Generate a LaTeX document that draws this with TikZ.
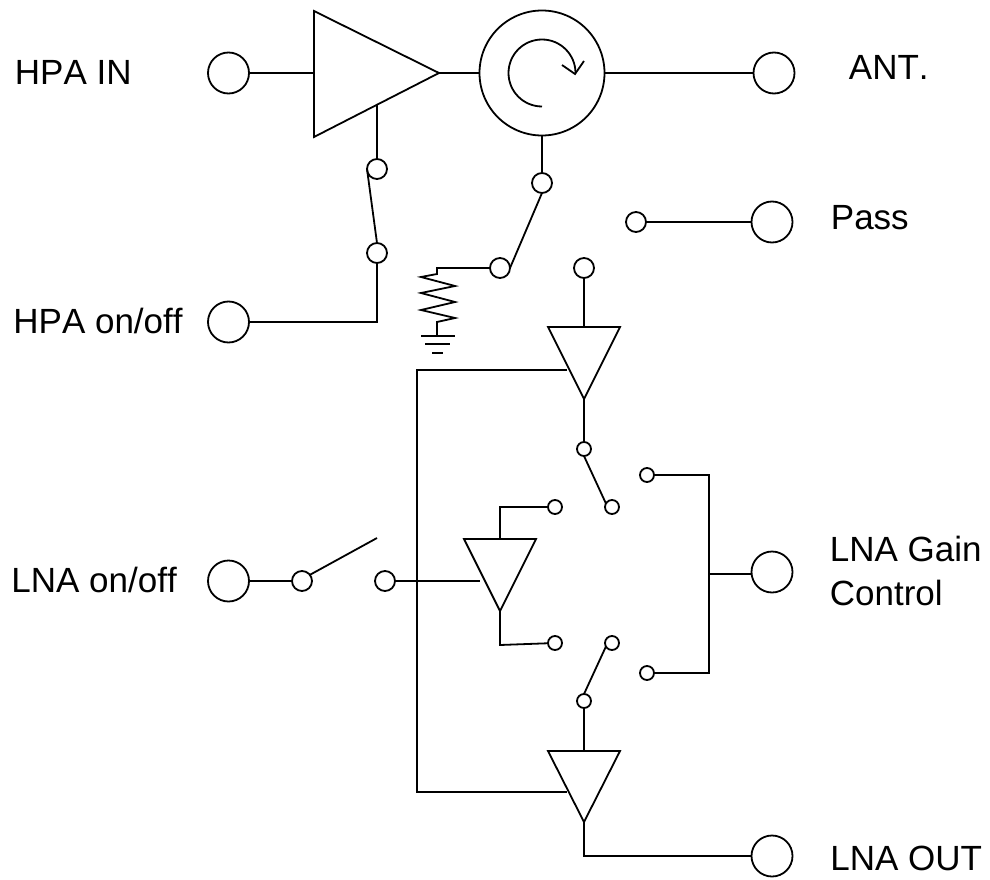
\documentclass[tikz,border=0pt]{standalone}
\usepackage{fontspec}
\setmainfont[Kerning=Off]{Liberation Sans}
\tikzset{>=stealth}
\tikzset{
  port/.style={draw,circle,inner sep=0pt,outer sep=0pt,minimum size=41pt},
  contact/.style={draw,circle,inner sep=0pt,outer sep=0pt,minimum size=20pt},
  tap/.style={draw,circle,inner sep=0pt,outer sep=0pt,minimum size=14pt},
  lbl/.style={anchor=base west,inner sep=0pt,font=\fontsize{35}{41}\selectfont}
}

\begin{document}
\begin{tikzpicture}[x=1pt,y=-1pt,line width=1.8pt,line join=miter]
      \useasboundingbox (0,0) rectangle (990,880);
      % ports and contacts
      \foreach \n/\x/\y in {hpain/228.5/73,ant/774/73,pass/772/222,hpaonoff/228.5/322,lnaonoff/228.5/581,gain/772/572,lnaout/772/856}
        \node[port] (\n) at (\x,\y) {};
      \foreach \n/\x/\y in {hpasa/377/169,hpasb/377/253,circsa/542/183,circsb/500/268,rxs/584/268,passs/636/222,lnasa/302/581,lnasb/385/581}
        \node[contact] (\n) at (\x,\y) {};
      \foreach \n/\x/\y in {upc/584/449,gainu/647/475,midu/555/507,upo/612/507,midd/555/643,downo/612/643,gaind/647/673,downc/584/701}
        \node[tap] (\n) at (\x,\y) {};
      \node[draw,circle,inner sep=0pt,outer sep=0pt,minimum size=125pt] (circ) at (542,73) {};
      % amplifiers
      \coordinate (hpaa) at (314,11);
      \coordinate (hpab) at (314,137);
      \coordinate (hpatip) at (439,73);
      \draw (hpaa)--(hpatip)--(hpab)--cycle;
      \coordinate (rxa) at (548,327);
      \coordinate (rxb) at (620,327);
      \coordinate (rxtip) at (584,399);
      \draw (rxa)--(rxb)--(rxtip)--cycle;
      \coordinate (mida) at (464,539);
      \coordinate (midb) at (536,539);
      \coordinate (midtip) at (500,611);
      \draw (mida)--(midb)--(midtip)--cycle;
      \coordinate (lowa) at (548,751);
      \coordinate (lowb) at (620,751);
      \coordinate (lowtip) at (584,822);
      \draw (lowa)--(lowb)--(lowtip)--cycle;
      % circulator arrow
      \draw ([yshift=-33.5pt]circ.center) arc[start angle=90,end angle=360,radius=33.5];
      \draw (562,65)--(575,74)--(584,61);
      % top row
      \draw (hpain)--(314,73);
      \draw (hpatip)--(circ);
      \draw (circ)--(ant);
      % hpa switch
      \draw (377,105)--(hpasa);
      \draw (hpasa.west)--(hpasb.north);
      \draw (hpasb) |- (hpaonoff);
      % load switch
      \draw (circ)--(circsa);
      \draw (circsa.south)--(circsb.east);
      \draw (circsb)--(437,268)--(437,274)--(421,277)--(455,286)--(421,293)--(455,302)--(421,310)--(455,318)--(437,322)--(437,336);
      \draw (421,336)--(455,336);
      \draw (425,344)--(450,344);
      \draw (432,353)--(443,353);
      % receive chain
      \draw (passs)--(pass);
      \draw (rxs)--(584,327);
      \draw (567,370)--(417,370)--(417,792)--(567,792);
      \draw (rxtip)--(upc);
      \draw (upc.south)--(upo.150);
      \coordinate (gainj) at (709,574);
      \draw (gainu) -| (gainj);
      \draw (gaind) -| (gainj);
      \draw (gainj)--(gainj-|gain.west);
      \draw (lnaonoff)--(lnasa);
      \draw (lnasa.38)--(377,538);
      \draw (lnasb)--(480,581);
      \draw (500,539)--(500,507)--(midu);
      \draw (midtip)--(500,645)--(midd);
      \draw (downc.north)--(downo.210);
      \draw (downc)--(584,751);
      \draw (lowtip)--(584,856)--(lnaout);
      % labels
      \node[lbl] (l1) at (14,85) {HPA IN};
      \node[lbl] (l2) at (848,80) {ANT.};
      \node[lbl] (l3) at (830,229) {Pass};
      \node[lbl] (l4) at (12.5,333) {HPA on/off};
      \node[lbl] (l5) at (10.5,592) {LNA on/off};
      \node[lbl] (l6) at (829,561.5) {LNA Gain};
      \node[lbl] (l7) at (829,605) {Control};
      \node[lbl] (l8) at (829.5,870) {LNA OUT};
\end{tikzpicture}
\end{document}
